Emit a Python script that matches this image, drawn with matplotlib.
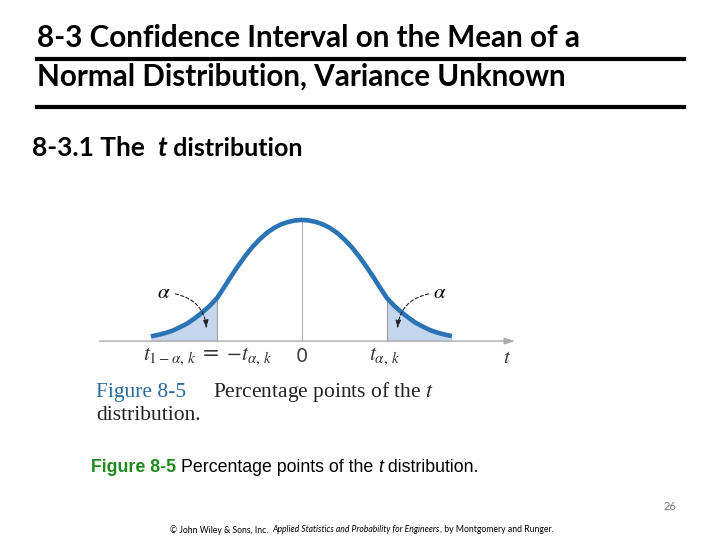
import matplotlib.pyplot as plt
import numpy as np
from matplotlib.lines import Line2D

# curve (t value, density height)
t_vals = [-2.65, -2.5, -2.375, -2.25, -2.125, -2.0, -1.875, -1.75, -1.625, -1.49, -1.375,
          -1.25, -1.125, -1.0, -0.875, -0.75, -0.625, -0.5, -0.375, -0.25, -0.125,
          0.0, 0.125, 0.25, 0.375, 0.5, 0.625, 0.75, 0.875, 1.0, 1.125, 1.25, 1.375,
          1.49, 1.625, 1.75, 1.875, 2.0, 2.125, 2.25, 2.375, 2.5, 2.63]
dens = [0.015, 0.021, 0.027, 0.035, 0.046, 0.058, 0.074, 0.092, 0.112, 0.138, 0.170,
        0.206, 0.240, 0.272, 0.301, 0.325, 0.346, 0.362, 0.374, 0.382, 0.387,
        0.389, 0.387, 0.382, 0.374, 0.362, 0.346, 0.325, 0.301, 0.272, 0.240, 0.206, 0.170,
        0.138, 0.112, 0.092, 0.074, 0.058, 0.046, 0.035, 0.027, 0.021, 0.016]
t_alpha = 1.49
tick_pos = [-t_alpha, 0.0, t_alpha]
tick_labels = [r"$t_{1-\alpha,\,k}$ = $-t_{\alpha,\,k}$", "0", r"$t_{\alpha,\,k}$"]

plt.rcParams["mathtext.fontset"] = "stix"
t = np.array(t_vals)
d = np.array(dens)

fig = plt.figure(figsize=(7.2, 5.4), dpi=100)
W, H = 720, 540
renderer = fig.canvas.get_renderer()

def fx(px):
       return px / W

def fy(py):
       return 1 - py / H

def run_text(x_px, y_px, parts):
       # put text pieces one after the other on a line
       x = x_px
       for s, kw in parts:
              txt = fig.text(fx(x), fy(y_px), s, va="center", ha="left", **kw)
              x += txt.get_window_extent(renderer).width

# slide title
fig.text(fx(37), fy(38), "8-3 Confidence Interval on the Mean of a", fontsize=21.3,
         fontweight="bold", family="Lato", va="center", ha="left")
fig.text(fx(37), fy(77), "Normal Distribution, Variance Unknown", fontsize=21.3,
         fontweight="bold", family="Lato", va="center", ha="left")
fig.add_artist(Line2D([fx(37), fx(684)], [fy(59), fy(59)], color="black", lw=3))
fig.add_artist(Line2D([fx(37), fx(684)], [fy(107), fy(107)], color="black", lw=3))
head = dict(fontsize=19, fontweight="bold", family="Lato")
run_text(32, 148, [("8-3.1 The  ", head),
                   ("t", dict(head, style="italic")),
                   (" distribution", dict(head, fontsize=18))])

# chart axes, placed so the curve lands where it is on the slide
ax = fig.add_axes([0.1265, 0.3107, 0.6017, 0.30])
ax.set_xlim(-3.7, 3.9)
ax.set_ylim(-0.1, 0.42)
ax.axis("off")

blue = "#2a74b6"
shade = "#c5d6ee"
left = t <= -t_alpha
right = t >= t_alpha
ax.fill_between(t[left], 0, d[left], color=shade, lw=0)
ax.fill_between(t[right], 0, d[right], color=shade, lw=0)
ax.plot([-t_alpha, -t_alpha], [0, d[t == -t_alpha][0]], color="#a0a0a0", lw=0.8)
ax.plot([t_alpha, t_alpha], [0, d[t == t_alpha][0]], color="#a0a0a0", lw=0.8)
ax.plot([0, 0], [0, d.max()], color="#b0b0b0", lw=0.8)
ax.annotate("", xy=(3.78, 0), xytext=(-3.6, 0),
            arrowprops=dict(arrowstyle="-|>,head_length=0.6,head_width=0.2",
                            color="#aaaaaa", lw=1))
ax.plot(t, d, color=blue, lw=3.3, solid_capstyle="butt", solid_joinstyle="round")

# alpha labels with curved arrows
ax.text(-2.42, 0.157, r"$\alpha$", fontsize=15, ha="center", va="center")
ax.text(2.42, 0.157, r"$\alpha$", fontsize=15, ha="center", va="center")
ax.annotate("", xy=(-1.67, 0.030), xytext=(-2.27, 0.153),
            arrowprops=dict(arrowstyle="-|>,head_length=0.5,head_width=0.15", color="#222222",
                            lw=0.8, ls=(0, (3, 2)), connectionstyle="arc3,rad=-0.4"))
ax.annotate("", xy=(1.67, 0.030), xytext=(2.27, 0.153),
            arrowprops=dict(arrowstyle="-|>,head_length=0.5,head_width=0.15", color="#222222",
                            lw=0.8, ls=(0, (3, 2)), connectionstyle="arc3,rad=0.4"))

# labels on the t axis
ax.text(-0.52, -0.050, tick_labels[0], fontsize=15.5, ha="right", va="center",
        color="#333333", clip_on=False)
ax.text(tick_pos[1], -0.048, tick_labels[1], fontsize=14, ha="center", va="center",
        color="#444444", family="DejaVu Sans", clip_on=False)
ax.text(tick_pos[2] - 0.05, -0.050, tick_labels[2], fontsize=15.5, ha="center", va="center",
        color="#333333", clip_on=False)
ax.text(3.6, -0.050, r"$t$", fontsize=15, ha="center", va="center", color="#333333",
        clip_on=False)

# caption from the book figure
book = dict(fontsize=15.5, family="Liberation Serif", color="#222222")
fig.text(fx(96), fy(392), "Figure 8-5", color="#2b6a9c", fontsize=15.5,
         family="Liberation Serif", va="center", ha="left")
fig.text(fx(213), fy(392), "Percentage points of the $\\it{t}$", va="center", ha="left", **book)
fig.text(fx(96), fy(416), "distribution.", va="center", ha="left", **book)

# slide caption
cap = dict(fontsize=12.8, family="Liberation Sans", color="black")
run_text(91, 467, [("Figure 8-5 ", dict(cap, fontweight="bold", color="#1e8a1e")),
                   ("Percentage points of the ", cap),
                   ("t", dict(cap, style="italic")),
                   (" distribution.", cap)])

fig.text(fx(676), fy(506), "26", fontsize=8, color="#777777", family="Lato",
         va="center", ha="right")
small = dict(fontsize=6.2, family="Lato")
run_text(170, 530, [("\u00a9 John Wiley & Sons, Inc.  ", small),
                    ("Applied Statistics and Probability for Engineers", dict(small, style="italic")),
                    (", by Montgomery and Runger.", small)])

fig.savefig("out.png", dpi=100)
